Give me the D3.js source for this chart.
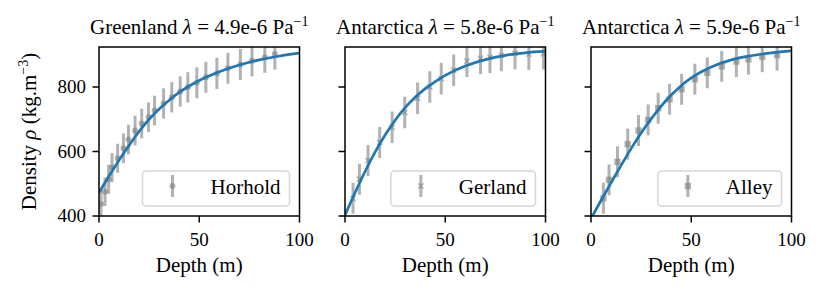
<!DOCTYPE html>
<html>
<head>
<meta charset="utf-8">
<script src="https://cdn.jsdelivr.net/npm/d3@7"></script>
<style>
body { margin: 0; background: #fff; }
svg text { font-family: "Liberation Serif", "DejaVu Serif", serif; fill: #000; }
</style>
</head>
<body>
<svg id="chart" width="830" height="302"></svg>
<script>
/* Values */
var panelTitles = ["Greenland", "Antarctica", "Antarctica"];
var lambdaValues = ["4.9e-6", "5.8e-6", "5.9e-6"];
var seriesNames = ["Horhold", "Gerland", "Alley"];
var xTickValues = [0, 50, 100];
var yTickValues = [400, 600, 800];

var horholdDepth = [1.0, 3.0, 4.8, 6.5, 9.3, 12.2, 14.7, 18.0, 21.3, 24.7, 27.7, 32.2, 36.3, 40.5, 44.3, 48.8, 53.3, 58.8, 64.3, 70.5, 76.3, 82.7, 87.7];
var horholdDensity = [437, 475, 514, 550, 579, 610, 637, 665, 687, 706, 727, 749, 768, 786, 799, 813, 830, 842, 858, 870, 881, 892, 902];
var horholdError = [44, 44, 45, 45, 45, 46, 46, 46, 46, 46, 46, 47, 47, 47, 47, 48, 48, 48, 48, 48, 48, 48, 48];

var gerlandDepth = [4.0, 7.2, 11.5, 17.3, 23.5, 29.8, 36.2, 42.3, 48.0, 54.2, 60.8, 67.6, 72.3, 78.0, 84.8, 91.7, 99.0];
var gerlandDensity = [455, 514, 572, 628, 675, 721, 765, 800, 826, 852, 880, 889, 892, 898, 904, 902, 903];
var gerlandError = [48, 48, 48, 48, 49, 49, 49, 49, 49, 49, 49, 49, 49, 49, 49, 49, 49];

var alleyDepth = [6.2, 9.0, 13.2, 18.3, 23.7, 28.5, 33.5, 39.2, 45.2, 51.8, 58.0, 65.2, 72.5, 78.5, 85.4, 92.8];
var alleyDensity = [455, 512, 568, 623, 665, 698, 734, 762, 793, 824, 844, 864, 879, 886, 894, 899];
var alleyError = [48, 48, 48, 48, 48, 48, 48, 48, 48, 48, 48, 48, 48, 48, 48, 48];

/* model fit, read at fixed depths */
var fitDepth = [0, 5, 10, 15, 20, 25, 30, 35, 40, 45, 50, 60, 70, 80, 90, 100];
var greenlandFit = [472, 524, 573, 619, 662, 700, 732, 759, 783, 803, 820, 847, 868, 884, 896, 905];
var gerlandFit = [403, 472, 538, 598, 651, 697, 736, 768, 795, 817, 836, 865, 885, 898, 906, 911];
var alleyFit = [392, 448, 503, 557, 609, 657, 701, 741, 775, 804, 828, 862, 884, 897, 906, 912];

function densityChart() {
    var svg = d3.select("#chart");
    var panelLeft = [99, 345, 591];
    var panelWidth = 200.5;
    var top = 47, bottom = 216;
    var gray = "gray";
    var fitColor = "#1f77b4";
    var serif = "'Liberation Serif', 'DejaVu Serif', serif";

    var panels = [
        {title: panelTitles[0], lambda: lambdaValues[0], name: seriesNames[0], depth: horholdDepth, density: horholdDensity, error: horholdError, fit: greenlandFit, marker: "circle"},
        {title: panelTitles[1], lambda: lambdaValues[1], name: seriesNames[1], depth: gerlandDepth, density: gerlandDensity, error: gerlandError, fit: gerlandFit, marker: "x"},
        {title: panelTitles[2], lambda: lambdaValues[2], name: seriesNames[2], depth: alleyDepth, density: alleyDensity, error: alleyError, fit: alleyFit, marker: "square"}
    ];

    var yAxis = d3.scaleLinear()
        .domain([400, 924])
        .range([bottom, top]);

    function drawMarker(g, kind, cx, cy) {
        if (kind == "circle") {
            g.append("circle").attr("cx", cx).attr("cy", cy).attr("r", 3)
                .attr("fill", gray).attr("opacity", 0.6);
        } else if (kind == "square") {
            g.append("rect").attr("x", cx - 3.2).attr("y", cy - 3.2)
                .attr("width", 6.4).attr("height", 6.4)
                .attr("fill", gray).attr("opacity", 0.6);
        } else {
            g.append("path")
                .attr("d", "M" + (cx - 2.6) + "," + (cy - 2.6) + "L" + (cx + 2.6) + "," + (cy + 2.6) +
                           "M" + (cx - 2.6) + "," + (cy + 2.6) + "L" + (cx + 2.6) + "," + (cy - 2.6))
                .attr("stroke", gray).attr("stroke-width", 1.5).attr("fill", "none")
                .attr("opacity", 0.6);
        }
    }

    panels.forEach(function(p, i) {
        var left = panelLeft[i];
        var xAxis = d3.scaleLinear()
            .domain([0, 100])
            .range([left, left + panelWidth]);

        var g = svg.append("g").attr("font-family", serif);

        svg.append("clipPath")
            .attr("id", "clip" + i)
            .append("rect")
            .attr("x", left).attr("y", top)
            .attr("width", panelWidth).attr("height", bottom - top);

        var plot = g.append("g").attr("clip-path", "url(#clip" + i + ")");

        /* error bars and markers */
        p.depth.forEach(function(d, j) {
            plot.append("line")
                .attr("x1", xAxis(d)).attr("x2", xAxis(d))
                .attr("y1", yAxis(p.density[j] - p.error[j]))
                .attr("y2", yAxis(p.density[j] + p.error[j]))
                .attr("stroke", gray)
                .attr("stroke-width", 3)
                .attr("opacity", 0.6);
            drawMarker(plot, p.marker, xAxis(d), yAxis(p.density[j]));
        });

        /* fitted curve */
        var line = d3.line()
            .x((d, j) => xAxis(fitDepth[j]))
            .y(d => yAxis(d))
            .curve(d3.curveMonotoneX);
        plot.append("path")
            .datum(p.fit)
            .attr("d", line)
            .attr("fill", "none")
            .attr("stroke", fitColor)
            .attr("stroke-width", 2.7);

        /* ticks */
        g.selectAll("line.xtick")
            .data(xTickValues)
            .enter()
            .append("line")
            .attr("x1", d => xAxis(d)).attr("x2", d => xAxis(d))
            .attr("y1", bottom).attr("y2", bottom + 6.5)
            .attr("stroke", "black").attr("stroke-width", 1.5);
        g.selectAll("text.xtick")
            .data(xTickValues)
            .enter()
            .append("text")
            .attr("x", d => xAxis(d))
            .attr("y", 246)
            .attr("text-anchor", "middle")
            .attr("font-size", 19)
            .text(d => d);

        g.selectAll("line.ytick")
            .data(yTickValues)
            .enter()
            .append("line")
            .attr("x1", left - 6.5).attr("x2", left)
            .attr("y1", d => yAxis(d)).attr("y2", d => yAxis(d))
            .attr("stroke", "black").attr("stroke-width", 1.5);
        if (i == 0) {
            g.selectAll("text.ytick")
                .data(yTickValues)
                .enter()
                .append("text")
                .attr("x", left - 13)
                .attr("y", d => yAxis(d))
                .attr("dy", "0.33em")
                .attr("text-anchor", "end")
                .attr("font-size", 19)
                .text(d => d);
        }

        /* frame */
        g.append("rect")
            .attr("x", left).attr("y", top)
            .attr("width", panelWidth).attr("height", bottom - top)
            .attr("fill", "none")
            .attr("stroke", "black")
            .attr("stroke-width", 1.5);

        /* title */
        var title = g.append("text")
            .attr("x", left + panelWidth / 2)
            .attr("y", 34)
            .attr("text-anchor", "middle")
            .attr("font-size", 21);
        title.append("tspan").text(p.title + " ");
        title.append("tspan").attr("font-style", "italic").text("λ");
        title.append("tspan").text(" = " + p.lambda + " Pa");
        title.append("tspan").attr("font-size", 14).attr("dy", -8).text("−1");

        /* x label */
        g.append("text")
            .attr("x", left + panelWidth / 2)
            .attr("y", 272)
            .attr("text-anchor", "middle")
            .attr("font-size", 21)
            .text("Depth (m)");

        /* legend */
        var legend = g.append("g");
        var box = legend.append("rect");
        var label = legend.append("text")
            .attr("x", left + panelWidth - 19)
            .attr("y", 194)
            .attr("text-anchor", "end")
            .attr("font-size", 21)
            .text(p.name);
        var textStart = left + panelWidth - 19 - label.node().getComputedTextLength();
        box.attr("x", textStart - 68)
            .attr("y", 171)
            .attr("width", left + panelWidth - 10 - (textStart - 68))
            .attr("height", 35)
            .attr("rx", 3.5)
            .attr("fill", "white")
            .attr("fill-opacity", 0.8)
            .attr("stroke", "#d6d6d6")
            .attr("stroke-width", 1.5);
        legend.append("line")
            .attr("x1", textStart - 38).attr("x2", textStart - 38)
            .attr("y1", 175).attr("y2", 197)
            .attr("stroke", gray)
            .attr("stroke-width", 3)
            .attr("opacity", 0.6);
        drawMarker(legend, p.marker, textStart - 38, 186);
    });

    /* y label */
    var ylabel = svg.append("text")
        .attr("font-family", serif)
        .attr("transform", "translate(36," + (top + bottom) / 2 + ") rotate(-90)")
        .attr("text-anchor", "middle")
        .attr("font-size", 21);
    ylabel.append("tspan").text("Density ");
    ylabel.append("tspan").attr("font-style", "italic").text("ρ");
    ylabel.append("tspan").text(" (kg.m");
    ylabel.append("tspan").attr("font-size", 14).attr("dy", -8).text("−3");
    ylabel.append("tspan").attr("dy", 8).text(")");

    return svg;
}
densityChart();
</script>
</body>
</html>
